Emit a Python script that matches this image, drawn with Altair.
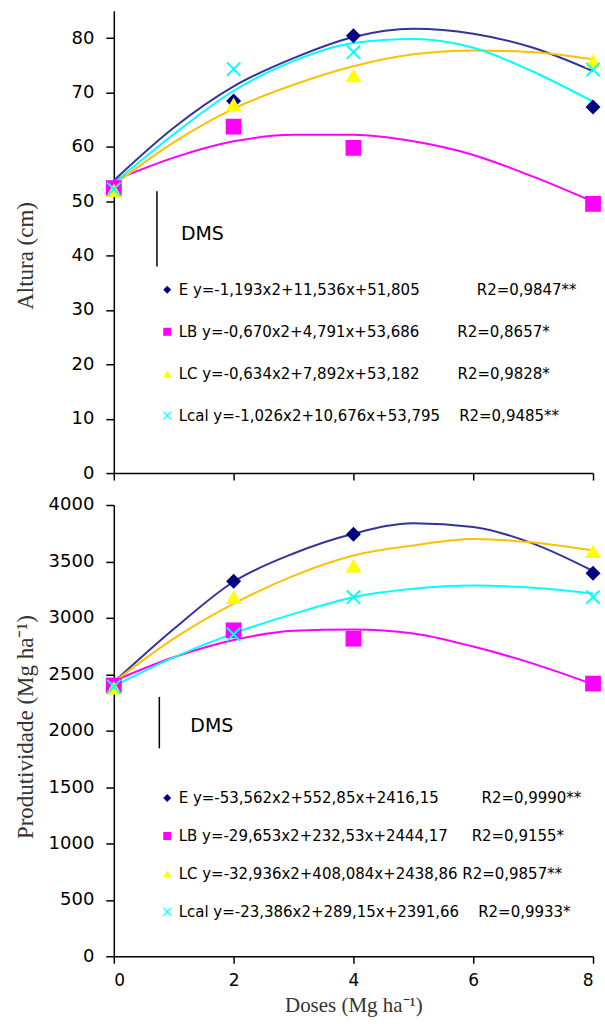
import altair as alt
import pandas as pd

# ---------------- data ----------------
series = ["E", "LB", "LC", "Lcal"]

doses = [0, 2, 4, 8]
curve_doses = [0, 1, 2, 3, 4, 5, 6, 7, 8]

# Altura (cm) - observed points
alt_E = [52.5, 68.4, 80.4, 67.3]
alt_LB = [52.4, 63.7, 59.8, 49.5]
alt_LC = [52.0, 67.8, 73.1, 75.8]
alt_Lcal = [52.2, 74.3, 77.4, 74.2]
# Altura (cm) - fitted curves
altc_E = [53.8, 63.5, 71.1, 76.3, 80.2, 81.7, 80.8, 78.2, 73.9]
altc_LB = [53.8, 58.0, 61.0, 62.2, 62.2, 61.0, 58.5, 54.5, 49.9]
altc_LC = [53.0, 60.8, 67.0, 71.4, 74.8, 77.0, 77.7, 77.4, 76.1]
altc_Lcal = [53.3, 62.3, 70.3, 75.8, 79.1, 79.8, 78.2, 73.8, 68.3]

# Produtividade (Mg ha-1) - observed points
prod_E = [2400, 3325, 3740, 3395]
prod_LB = [2400, 2889, 2815, 2417]
prod_LC = [2380, 3183, 3463, 3590]
prod_Lcal = [2390, 2853, 3183, 3184]
# Produtividade - fitted curves
prodc_E = [2430, 2900, 3320, 3570, 3745, 3839, 3806, 3658, 3415]
prodc_LB = [2440, 2650, 2803, 2885, 2897, 2862, 2745, 2594, 2410]
prodc_LC = [2430, 2815, 3125, 3372, 3552, 3642, 3699, 3667, 3596]
prodc_Lcal = [2395, 2650, 2862, 3035, 3183, 3257, 3286, 3266, 3215]

# DMS bars (dose position, low, high)
dms_altura = [0.72, 38.0, 51.8]
dms_prod = [0.76, 1843, 2299]

# legend texts
eq_altura = ["E y=-1,193x2+11,536x+51,805", "LB y=-0,670x2+4,791x+53,686",
             "LC y=-0,634x2+7,892x+53,182", "Lcal y=-1,026x2+10,676x+53,795"]
r2_altura = ["R2=0,9847**", "R2=0,8657*", "R2=0,9828*", "R2=0,9485**"]
eq_prod = ["E y=-53,562x2+552,85x+2416,15", "LB y=-29,653x2+232,53x+2444,17",
           "LC y=-32,936x2+408,084x+2438,86", "Lcal y=-23,386x2+289,15x+2391,66"]
r2_prod = ["R2=0,9990**", "R2=0,9155*", "R2=0,9857**", "R2=0,9933*"]

# ---------------- styles ----------------
point_colors = ["#000080", "#FF00FF", "#FFFF00", "#00FFFF"]
line_colors = ["#333399", "#FF00FF", "#FFC000", "#00FFFF"]
X_PATH = ("M0,0.2L-0.9,1.1L-1.1,0.9L-0.2,0L-1.1,-0.9L-0.9,-1.1L0,-0.2"
          "L0.9,-1.1L1.1,-0.9L0.2,0L1.1,0.9L0.9,1.1Z")
shapes = ["diamond", "square", "triangle-up", X_PATH]
marker_sizes = [225, 250, 250, 180]
gap_altura = [12, 8, 8, 4]
gap_prod = [9, 5, 1, 4]
NB = "\u00a0"

SANS = "DejaVu Sans"
SERIF = "Liberation Serif"


def long_df(xs, cols):
    rows = []
    for s, lc, ms, ys in zip(series, line_colors, marker_sizes, cols):
        for x, y in zip(xs, ys):
            rows.append({"dose": x, "value": y, "series": s, "lcolor": lc, "msize": ms})
    return pd.DataFrame(rows)


def label_expr(eqs, r2s, gaps):
    expr = "''"
    for s, e, r, g in reversed(list(zip(series, eqs, r2s, gaps))):
        txt = e + NB * g + r
        expr = f"datum.label === '{s}' ? '{txt}' : ({expr})"
    return expr


def panel(pts, crv, dms, ydom, yvals, ytitle, title_y, height, bottom,
          eqs, r2s, gaps, leg_y, row_pad, dms_dx, dms_dy):
    xscale = alt.Scale(domain=[0, 8], nice=False, zero=False)
    if bottom:
        xaxis = alt.Axis(values=[0, 2, 4, 6, 8], title="Doses (Mg ha\u207b\u00b9)",
                         labelFontSize=17, tickSize=7, labelPadding=9,
                         titleFontSize=21, titleX=240, titleY=49,
                         titleBaseline="middle", titleAlign="center")
    else:
        xaxis = alt.Axis(values=[0, 2, 4, 6, 8], labels=False, title=None, tickSize=7)
    yscale = alt.Scale(domain=ydom, nice=False, zero=True)
    yaxis = alt.Axis(values=yvals, format="d", title=ytitle, titleFontSize=23,
                     titleX=-88, titleY=title_y, titleAngle=-90,
                     titleBaseline="middle", titleAlign="center",
                     labelPadding=12, tickSize=8)

    def X(f):
        return alt.X(f, scale=xscale, axis=xaxis)

    def Y(f):
        return alt.Y(f, scale=yscale, axis=yaxis)

    legend = alt.Legend(title=None, orient="none", legendX=46, legendY=leg_y,
                        labelExpr=label_expr(eqs, r2s, gaps), labelFont=SANS,
                        labelFontSize=15, labelColor="black", symbolSize=64,
                        rowPadding=row_pad, padding=0, labelOffset=4,
                        labelLimit=1000)

    lines = alt.Chart(crv).mark_line(strokeWidth=2, interpolate="monotone").encode(
        x=X("dose:Q"), y=Y("value:Q"),
        stroke=alt.Stroke("lcolor:N", scale=None),
        detail="series:N",
    )
    points = alt.Chart(pts).mark_point(filled=True, opacity=1).encode(
        x=X("dose:Q"), y=Y("value:Q"),
        color=alt.Color("series:N", scale=alt.Scale(domain=series, range=point_colors),
                        legend=legend),
        shape=alt.Shape("series:N", scale=alt.Scale(domain=series, range=shapes),
                        legend=legend),
        size=alt.Size("msize:Q", scale=None),
    )
    dms_df = pd.DataFrame([{"x": dms[0], "lo": dms[1], "hi": dms[2], "label": "DMS"}])
    rule = alt.Chart(dms_df).mark_rule(color="black", strokeWidth=1.5).encode(
        x=X("x:Q"), y=Y("lo:Q"), y2="hi:Q")
    txt = alt.Chart(dms_df).transform_calculate(mid="(datum.lo + datum.hi) / 2").mark_text(
        align="left", baseline="middle", font=SANS, fontSize=19, color="black",
        dx=dms_dx, dy=dms_dy).encode(x=X("x:Q"), y=Y("mid:Q"), text="label:N")
    return alt.layer(lines, points, rule, txt).properties(width=480, height=height)


top = panel(long_df(doses, [alt_E, alt_LB, alt_LC, alt_Lcal]),
            long_df(curve_doses, [altc_E, altc_LB, altc_LC, altc_Lcal]),
            dms_altura, [0, 85], list(range(0, 81, 10)), "Altura (cm)", 245, 463,
            False, eq_altura, r2_altura, gap_altura, 272, 26, 24, 5)

bottom = panel(long_df(doses, [prod_E, prod_LB, prod_LC, prod_Lcal]),
               long_df(curve_doses, [prodc_E, prodc_LB, prodc_LC, prodc_Lcal]),
               dms_prod, [0, 4000], list(range(0, 4001, 500)),
               "Produtividade (Mg ha\u207b\u00b9)", 222, 452,
               True, eq_prod, r2_prod, gap_prod, 286, 22, 31, 3)

chart = alt.vconcat(top, bottom, spacing=14).resolve_scale(
    color="independent", shape="independent"
).resolve_legend(
    color="independent", shape="independent"
).properties(
    padding={"left": 15, "top": 10, "right": 4, "bottom": 2}
).configure_view(stroke=None).configure_axis(
    grid=False, labelFont=SANS, labelFontSize=18, labelColor="black",
    domainColor="black", domainWidth=1.5, tickColor="black", tickWidth=1.5,
    titleFont=SERIF, titleFontWeight="normal", titleColor="#333333",
)

chart.save("out.html", embed_options={"renderer": "svg", "actions": False})
